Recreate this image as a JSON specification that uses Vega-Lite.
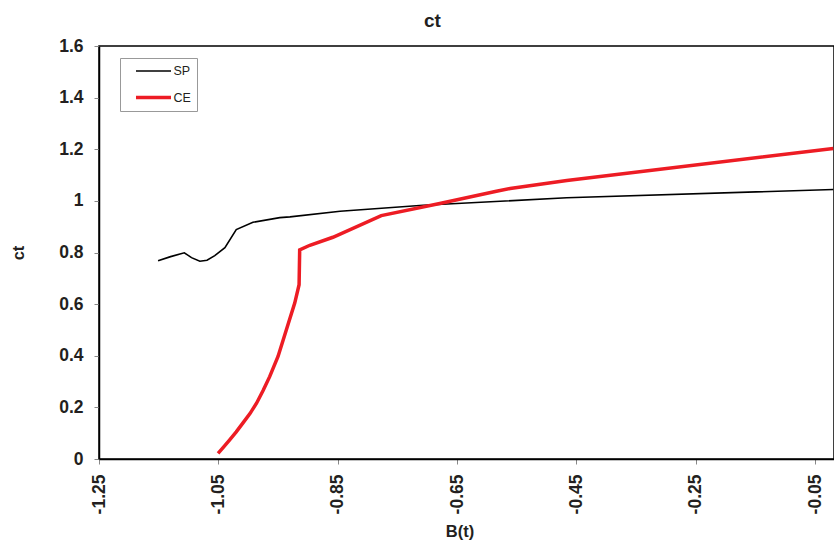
{
  "$schema": "https://vega.github.io/schema/vega-lite/v6.json",
  "width": 735,
  "height": 413,
  "autosize": {"type": "none"},
  "padding": {"left": 99, "top": 46, "right": 0, "bottom": 87},
  "background": "white",
  "title": {
    "text": "ct",
    "font": "Liberation Sans",
    "fontSize": 19,
    "fontWeight": "bold",
    "color": "#231f20",
    "anchor": "middle",
    "dx": -34,
    "offset": 6
  },
  "data": {
    "values": [
      {"x": -1.151, "y": 0.768, "s": "SP"},
      {"x": -1.130, "y": 0.784, "s": "SP"},
      {"x": -1.107, "y": 0.799, "s": "SP"},
      {"x": -1.095, "y": 0.780, "s": "SP"},
      {"x": -1.081, "y": 0.766, "s": "SP"},
      {"x": -1.069, "y": 0.770, "s": "SP"},
      {"x": -1.056, "y": 0.788, "s": "SP"},
      {"x": -1.039, "y": 0.819, "s": "SP"},
      {"x": -1.020, "y": 0.889, "s": "SP"},
      {"x": -0.992, "y": 0.917, "s": "SP"},
      {"x": -0.947, "y": 0.935, "s": "SP"},
      {"x": -0.930, "y": 0.938, "s": "SP"},
      {"x": -0.846, "y": 0.960, "s": "SP"},
      {"x": -0.707, "y": 0.983, "s": "SP"},
      {"x": -0.466, "y": 1.012, "s": "SP"},
      {"x": -0.0195, "y": 1.044, "s": "SP"},
      {"x": -1.0505, "y": 0.022, "s": "CE"},
      {"x": -1.041, "y": 0.047, "s": "CE"},
      {"x": -1.031, "y": 0.074, "s": "CE"},
      {"x": -1.020, "y": 0.105, "s": "CE"},
      {"x": -1.009, "y": 0.139, "s": "CE"},
      {"x": -0.997, "y": 0.176, "s": "CE"},
      {"x": -0.986, "y": 0.216, "s": "CE"},
      {"x": -0.975, "y": 0.265, "s": "CE"},
      {"x": -0.964, "y": 0.319, "s": "CE"},
      {"x": -0.950, "y": 0.397, "s": "CE"},
      {"x": -0.936, "y": 0.501, "s": "CE"},
      {"x": -0.922, "y": 0.604, "s": "CE"},
      {"x": -0.9147, "y": 0.675, "s": "CE"},
      {"x": -0.9137, "y": 0.810, "s": "CE"},
      {"x": -0.8967, "y": 0.828, "s": "CE"},
      {"x": -0.858, "y": 0.859, "s": "CE"},
      {"x": -0.777, "y": 0.943, "s": "CE"},
      {"x": -0.679, "y": 0.990, "s": "CE"},
      {"x": -0.584, "y": 1.037, "s": "CE"},
      {"x": -0.561, "y": 1.048, "s": "CE"},
      {"x": -0.466, "y": 1.079, "s": "CE"},
      {"x": -0.0195, "y": 1.203, "s": "CE"}
    ]
  },
  "mark": {"type": "line", "clip": true},
  "encoding": {
    "x": {
      "field": "x",
      "type": "quantitative",
      "title": "B(t)",
      "scale": {"domain": [-1.25, -0.0183], "nice": false, "zero": false},
      "axis": {
        "values": [-1.25, -1.05, -0.85, -0.65, -0.45, -0.25, -0.05],
        "format": ".2f",
        "labelExpr": "replace(datum.label, '\u2212', '-')",
        "labelAngle": -90,
        "labelPadding": 10,
        "titlePadding": 10,
        "titleX": 360.5
      }
    },
    "y": {
      "field": "y",
      "type": "quantitative",
      "title": "ct",
      "scale": {"domain": [0, 1.6], "nice": false},
      "axis": {
        "values": [0, 0.2, 0.4, 0.6, 0.8, 1, 1.2, 1.4, 1.6],
        "format": "~g",
        "labelPadding": 11,
        "titlePadding": 32
      }
    },
    "color": {
      "field": "s",
      "type": "nominal",
      "title": null,
      "scale": {"domain": ["SP", "CE"], "range": ["#000000", "#ed1c24"]},
      "legend": {"labelExpr": "datum.label + '\u00a0\u00a0\u00a0\u00a0'"}
    },
    "strokeWidth": {
      "field": "s",
      "type": "nominal",
      "title": null,
      "scale": {"domain": ["SP", "CE"], "range": [1.6, 3.5]},
      "legend": {"labelExpr": "datum.label + '\u00a0\u00a0\u00a0\u00a0'"}
    }
  },
  "config": {
    "font": "Liberation Sans",
    "view": {"stroke": "#000000", "strokeWidth": 1.5},
    "axis": {
      "grid": false,
      "domainColor": "#000000",
      "domainWidth": 1.5,
      "tickColor": "#888888",
      "tickSize": 5,
      "labelFont": "Liberation Sans",
      "labelFontSize": 17.5,
      "labelFontWeight": "bold",
      "labelColor": "#231f20",
      "titleFont": "Liberation Sans",
      "titleFontSize": 16.5,
      "titleFontWeight": "bold",
      "titleColor": "#231f20"
    },
    "legend": {
      "orient": "none",
      "legendX": 21,
      "legendY": 12,
      "direction": "vertical",
      "strokeColor": "#999999",
      "fillColor": "white",
      "padding": 6,
      "symbolType": "M0.333,0H6.167",
      "symbolSize": 144,
      "labelFont": "Liberation Sans",
      "labelFontSize": 12.5,
      "labelColor": "#231f20",
      "rowPadding": 11.5,
      "labelOffset": 31.5
    }
  }
}
